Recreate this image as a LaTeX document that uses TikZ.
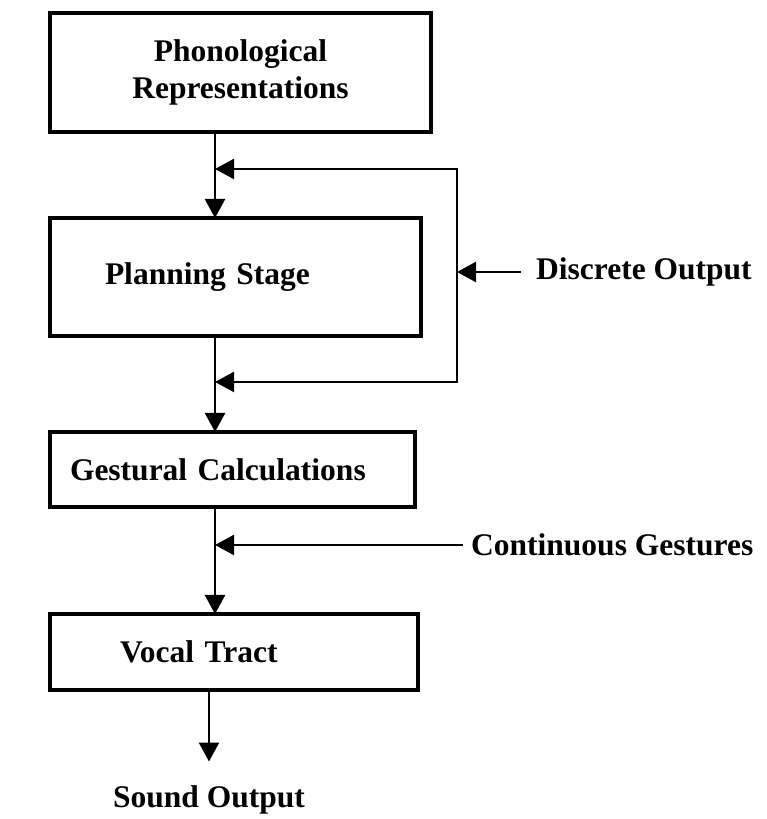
\documentclass[tikz,border=0pt]{standalone}
\usepackage{fontspec}
\setmainfont{Liberation Serif}
\usetikzlibrary{positioning,arrows.meta}

\begin{document}
\begin{tikzpicture}[
  x=1pt, y=1pt,
  font=\fontsize{31.5}{37}\selectfont\bfseries,
  box/.style={draw, line width=3.6pt, outer sep=0pt, inner ysep=4pt},
  lbl/.style={inner sep=4pt},
  arr/.style={-{Triangle[length=19pt, width=20pt]}, line width=2.4pt},
  fb/.style={{Triangle[length=19pt, width=20pt]}-{Triangle[length=19pt, width=20pt]}, line width=2.4pt}
]
\useasboundingbox (0,0) rectangle (766,819);

\node[box, anchor=north west, minimum height=119pt, text width=341pt, inner xsep=20pt, align=center] (phon) at (50,806) {Phonological\\Representations};
\node[box, below=86pt of phon.south west, anchor=north west, minimum height=118pt, text width=261pt, inner xsep=55pt, align=left] (plan) {Planning Stage};
\node[box, below=96pt of plan.south west, anchor=north west, minimum height=75pt, text width=325pt, inner xsep=20pt, align=left] (gest) {Gestural Calculations};
\node[box, below=107pt of gest.south west, anchor=north west, minimum height=76pt, text width=228pt, inner xsep=70pt, align=left] (vocal) {Vocal Tract};

\coordinate (fbtop) at ([xshift=165pt, yshift=-37pt]phon.south west);
\coordinate (fbbot) at ([xshift=165pt, yshift=-46pt]plan.south west);
\path (plan.east) ++(36pt,0) coordinate (fbx);
\coordinate (contj) at ([xshift=165pt, yshift=-38pt]gest.south west);

\node[lbl, anchor=west, inner xsep=15pt] (disc) at ([xshift=64pt, yshift=5pt]fbx) {Discrete Output};
\node[lbl, anchor=west, inner xsep=8pt] (cont) at ([xshift=248pt]contj) {Continuous Gestures};
\node[lbl] (sound) at ([xshift=159pt, yshift=-110pt]vocal.south west) {Sound Output};

\draw[arr] ([xshift=165pt]phon.south west) -- ([xshift=165pt]plan.north west);
\draw[arr] ([xshift=165pt]plan.south west) -- ([xshift=165pt]gest.north west);
\draw[arr] ([xshift=165pt]gest.south west) -- ([xshift=165pt]vocal.north west);
\draw[arr] (vocal.south -| sound) -- ([yshift=20pt]sound.north);

\draw[fb] (fbtop) -- (fbtop -| fbx) -- (fbbot -| fbx) -- (fbbot);
\draw[arr] (disc.west) -- (disc.west -| fbx);
\draw[arr] (cont.west) -- (contj);

\end{tikzpicture}
\end{document}
